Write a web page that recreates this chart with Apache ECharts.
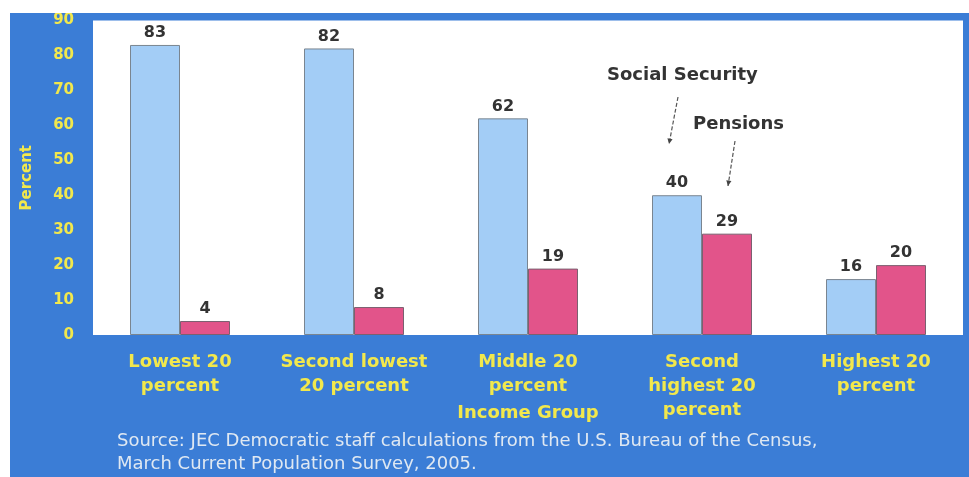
<!DOCTYPE html>
<html>
<head>
<meta charset="utf-8">
<script src="https://cdn.jsdelivr.net/npm/echarts@6/dist/echarts.min.js"></script>
<style>
	html, body { margin: 0; padding: 0; background: #fff; }
	#chart { position: absolute; left: 10px; top: 13px; width: 959px; height: 464px; background: #3b7dd6; }
</style>
</head>
<body>
<div id="chart"></div>
<script>
	// 收入组
	const categories = ["Lowest 20\npercent", "Second lowest\n20 percent", "Middle 20\npercent", "Second\nhighest 20\npercent", "Highest 20\npercent"];
	const socialSecurity = [83, 82, 62, 40, 16];
	const pensions = [4, 8, 19, 29, 20];
	const yTicks = [0, 10, 20, 30, 40, 50, 60, 70, 80, 90];
	const sourceLines = ["Source: JEC Democratic staff calculations from the U.S. Bureau of the Census,", "March Current Population Survey, 2005."];

	const yellow = "#f2e84c";
	const font = "DejaVu Sans";
	const chart = echarts.init(document.getElementById("chart"));

	const labelStyle = {
		show: true,
		position: "top",
		distance: 4,
		color: "#333",
		fontWeight: "bold",
		fontSize: 16,
		fontFamily: font
	};

	// 虚线箭头
	function arrow(x1, y1, x2, y2) {
		const ang = Math.atan2(y2 - y1, x2 - x1);
		const s = 6;
		const p = [
			[x2, y2],
			[x2 - s * Math.cos(ang - 0.45), y2 - s * Math.sin(ang - 0.45)],
			[x2 - s * Math.cos(ang + 0.45), y2 - s * Math.sin(ang + 0.45)]
		];
		return [{
			type: "line",
			shape: { x1: x1, y1: y1, x2: x2, y2: y2 },
			style: { stroke: "#555", lineWidth: 1.2, lineDash: [4, 2] }
		}, {
			type: "polygon",
			shape: { points: p },
			style: { fill: "#444" }
		}];
	}

	const option = {
		animation: false,
		grid: {
			left: 83,
			right: 6,
			top: 4,
			bottom: 142,
			show: true,
			backgroundColor: "#fff",
			borderWidth: 0
		},
		xAxis: {
			type: "category",
			data: categories,
			name: "Income Group",
			nameLocation: "middle",
			nameGap: 69,
			nameMoveOverlap: false,
			nameTextStyle: { color: yellow, fontWeight: "bold", fontSize: 18, fontFamily: font },
			axisLine: { show: false },
			axisTick: { show: false },
			axisLabel: {
				color: yellow,
				fontWeight: "bold",
				fontSize: 18,
				fontFamily: font,
				lineHeight: 24,
				margin: 15,
				interval: 0
			}
		},
		yAxis: {
			type: "value",
			min: yTicks[0],
			max: yTicks[yTicks.length - 1],
			interval: 10,
			name: "Percent",
			nameLocation: "middle",
			nameGap: 58,
			nameTextStyle: { color: yellow, fontWeight: "bold", fontSize: 15, fontFamily: font },
			splitLine: { show: false },
			axisLine: { show: false },
			axisTick: { show: false },
			axisLabel: {
				color: yellow,
				fontWeight: "bold",
				fontSize: 15,
				fontFamily: font,
				margin: 19
			}
		},
		series: [{
			name: "Social Security",
			type: "bar",
			data: socialSecurity,
			barWidth: 50,
			barGap: "0%",
			itemStyle: { color: "#a3cdf6", borderColor: "#7a8590", borderWidth: 1 },
			label: labelStyle
		}, {
			name: "Pensions",
			type: "bar",
			data: pensions,
			barWidth: 50,
			itemStyle: { color: "#e2548a", borderColor: "#7a6070", borderWidth: 1 },
			label: labelStyle
		}],
		graphic: [{
			type: "text",
			left: 597,
			top: 53,
			style: { text: "Social Security", fill: "#333", font: "bold 18px 'DejaVu Sans'" }
		}, {
			type: "text",
			left: 683,
			top: 102,
			style: { text: "Pensions", fill: "#333", font: "bold 18px 'DejaVu Sans'" }
		}].concat(arrow(668, 84, 659, 131), arrow(725, 128, 718, 173)).concat([{
			type: "text",
			left: 107,
			top: 417,
			style: { text: sourceLines.join("\n"), fill: "#dfe8f2", font: "18px 'DejaVu Sans'", lineHeight: 23 }
		}])
	};
	chart.setOption(option);
</script>
</body>
</html>
